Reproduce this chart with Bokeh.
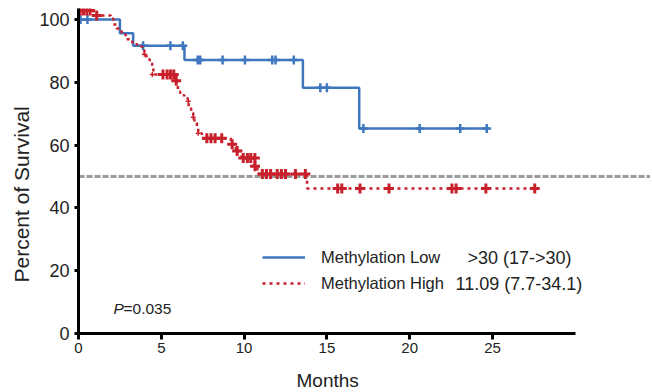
from bokeh.plotting import figure
from bokeh.models import Span, Legend, LegendItem, Label, FixedTicker, Title
from bokeh.embed import file_html
from bokeh.resources import INLINE

# ---- data ----
low_t = [0, 2.5, 3.3, 6.4, 13.55, 16.95, 24.8]
low_s = [100, 95.6, 91.6, 87.1, 78.3, 65.3, 65.3]
low_cens_t = [0.12, 0.54, 3.9, 5.55, 6.3, 7.2, 7.35, 8.7, 10.05, 11.7, 11.9, 13.0,
              14.6, 15.0, 17.2, 20.6, 23.05, 24.65]
low_cens_s = [100, 100, 91.6, 91.6, 91.6, 87.1, 87.1, 87.1, 87.1, 87.1, 87.1, 87.1,
              78.3, 78.3, 65.3, 65.3, 65.3, 65.3]

high_t = [0, 0.9, 1.95, 2.1, 2.3, 2.6, 2.85, 3.25, 3.55, 3.85, 3.98, 4.1, 4.3, 4.45,
          4.52, 5.85, 5.95, 6.0, 6.14, 6.39, 6.6, 6.65, 6.8, 6.93, 7.0, 7.15, 7.23,
          7.45, 9.2, 9.5, 9.85, 10.6, 10.8, 13.8, 27.6]
high_s = [102.9, 101.3, 100.3, 98.4, 97.1, 95.2, 93.7, 92.1, 91.4, 90.5, 88.9, 87.3,
          86.0, 84.4, 82.5, 81.0, 79.0, 77.1, 75.9, 74.9, 74.0, 71.7, 70.2, 68.9, 67.0,
          65.4, 63.8, 62.2, 60.3, 58.1, 55.9, 53.3, 50.8, 46.2, 46.2]
high_cens_t = [0.1, 0.3, 0.5, 0.7, 1.1, 5.1, 5.35, 5.55, 5.75, 5.9, 7.75, 8.0, 8.25,
               8.65, 9.28, 9.58, 9.95, 10.2, 10.4, 10.65, 10.66, 11.1, 11.35, 11.6,
               12.0, 12.25, 12.5, 13.1, 13.7, 15.65, 15.9, 17.0, 18.75, 22.55, 22.8,
               24.6, 27.55]
high_cens_s = [102.9, 102.9, 102.9, 102.9, 101.3, 82.5, 82.5, 82.5, 82.5, 80.5, 62.2,
               62.2, 62.2, 62.2, 60.3, 58.1, 55.9, 55.9, 55.9, 55.9, 53.3, 50.8, 50.8,
               50.8, 50.8, 50.8, 50.8, 50.8, 50.8, 46.2, 46.2, 46.2, 46.2, 46.2, 46.2,
               46.2, 46.2]
high_small_t = [3.98, 4.46, 6.63, 6.93, 7.23]
high_small_s = [88.9, 82.5, 74.0, 68.9, 63.8]

median_line = 50
x_ticks = [0, 5, 10, 15, 20, 25]
y_ticks = [0, 20, 40, 60, 80, 100]
legend_names = ["Methylation Low", "Methylation High"]
legend_medians = [">30 (17->30)", "11.09 (7.7-34.1)"]
x_title = "Months"
y_title = "Percent of Survival"
p_text = "=0.035"

BLUE = "#3F77BF"
RED = "#C8202B"
GRAY = "#9B9B9B"
INK = "#222222"
FONT = "Liberation Sans"

p = figure(width=650, height=390, x_range=(0, 34.54), y_range=(0, 103.5),
           output_backend="svg", toolbar_location=None,
           min_border_left=78, min_border_right=0, min_border_top=8,
           min_border_bottom=57)
p.outline_line_color = None
p.grid.visible = False
p.background_fill_color = "white"

p.add_layout(Span(location=median_line, dimension="width", line_color=GRAY,
                  line_width=3, line_dash="6 2", level="underlay"))

r_low = p.step(low_t, low_s, mode="after", line_color=BLUE, line_width=2.5)
p.scatter(low_cens_t, low_cens_s, marker="cross", size=9, line_color=BLUE,
          line_width=2.5)

r_high = p.step(high_t, high_s, mode="after", line_color=RED, line_width=2.5,
                line_dash="3 4")
p.scatter(high_cens_t, high_cens_s, marker="cross", size=10, line_color=RED,
          line_width=3)
p.scatter(high_small_t, high_small_s, marker="cross", size=5, line_color=RED,
          line_width=1.5)

for ax in (p.xaxis[0], p.yaxis[0]):
    ax.axis_line_width = 3
    ax.axis_line_color = "black"
    ax.major_tick_line_width = 3
    ax.major_tick_line_color = "black"
    ax.major_tick_in = 0
    ax.minor_tick_line_color = None
    ax.major_label_text_font = FONT
    ax.major_label_text_color = INK

p.xaxis[0].ticker = FixedTicker(ticks=x_ticks)
p.xaxis[0].bounds = (0, 30)
p.xaxis[0].major_tick_out = 6
p.xaxis[0].major_label_standoff = 3
p.xaxis[0].major_label_text_font_size = "15px"
# an invisible spacer label pushes the "Months" title a little lower
p.xaxis[0].axis_label = " "
p.xaxis[0].axis_label_text_font_size = "1px"
p.xaxis[0].axis_label_standoff = 8

p.yaxis[0].ticker = FixedTicker(ticks=y_ticks)
p.yaxis[0].major_tick_out = 4
p.yaxis[0].major_label_standoff = 5
p.yaxis[0].major_label_text_font_size = "18px"

# axis titles as side titles, shifted along the side like the reference
p.add_layout(Title(text=x_title, align="left", offset=218, standoff=0,
                   text_font=FONT, text_font_size="19px",
                   text_font_style="normal", text_color=INK), "below")
p.add_layout(Title(text=y_title, align="left", offset=51, standoff=8,
                   text_font=FONT, text_font_size="21px",
                   text_font_style="normal", text_color=INK), "left")

legend = Legend(items=[LegendItem(label=legend_names[0], renderers=[r_low]),
                       LegendItem(label=legend_names[1], renderers=[r_high])],
                location=(184, 40), orientation="vertical",
                border_line_color=None, background_fill_alpha=0,
                padding=0, margin=0, spacing=6, glyph_width=43, glyph_height=20,
                label_height=20, label_standoff=16,
                label_text_font=FONT, label_text_font_size="16.5px",
                label_text_color=INK)
p.add_layout(legend)

p.add_layout(Label(x=389, y=76, x_units="screen", y_units="screen",
                   text=legend_medians[0], text_font=FONT, text_font_size="18px",
                   text_color=INK, text_baseline="middle"))
p.add_layout(Label(x=377, y=50, x_units="screen", y_units="screen",
                   text=legend_medians[1], text_font=FONT, text_font_size="18px",
                   text_color=INK, text_baseline="middle"))

p.add_layout(Label(x=35, y=25, x_units="screen", y_units="screen", text="P",
                   text_font=FONT, text_font_size="15.5px", text_font_style="italic",
                   text_color=INK, text_baseline="middle"))
p.add_layout(Label(x=45, y=25, x_units="screen", y_units="screen", text=p_text,
                   text_font=FONT, text_font_size="15.5px",
                   text_color=INK, text_baseline="middle"))

open("out.html", "w").write(file_html(p, INLINE))
